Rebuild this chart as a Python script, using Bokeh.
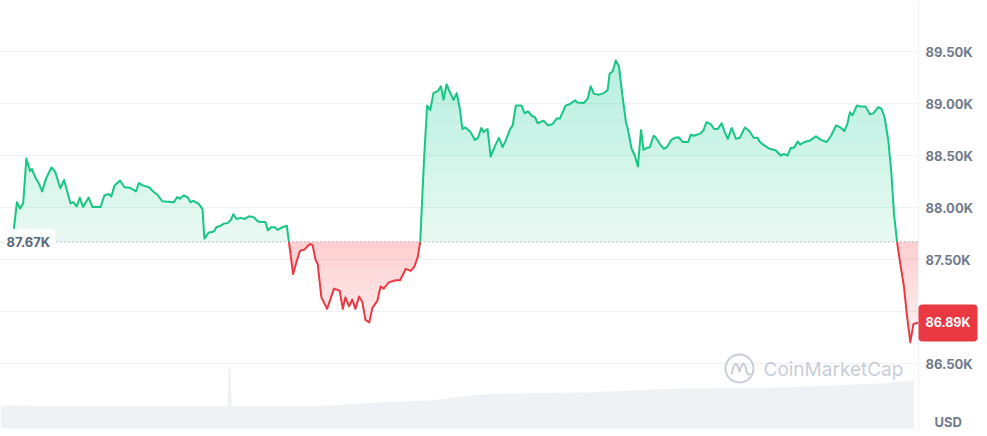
import numpy as np
from bokeh.plotting import figure
from bokeh.models import Range1d, Label, Span
from bokeh.core.properties import value
from bokeh.embed import file_html
from bokeh.resources import INLINE

# ---- data (minutes since start of the 24h window, BTC price in USD) ----
minutes = [0, 2, 7, 12, 17, 22, 28, 31, 37, 42,
           47, 54, 62, 68, 76, 82, 92, 97, 102, 107,
           112, 121, 127, 140, 146, 153, 157, 162, 171, 178,
           187, 196, 201, 208, 217, 225, 230, 238, 256, 262,
           266, 272, 278, 283, 287, 296, 302, 305, 312, 320,
           324, 331, 336, 342, 347, 351, 356, 363, 369, 376,
           384, 389, 394, 402, 406, 411, 417, 421, 429, 436,
           439, 446, 452, 457, 464, 470, 473, 477, 482, 485,
           491, 500, 511, 520, 525, 529, 535, 540, 545, 551,
           556, 561, 567, 572, 580, 585, 590, 598, 609, 616,
           625, 633, 639, 644, 648, 654, 659, 664, 669, 676,
           681, 685, 690, 695, 701, 706, 711, 715, 720, 728,
           735, 740, 745, 749, 755, 760, 766, 773, 779, 784,
           791, 795, 800, 809, 814, 819, 826, 830, 835, 844,
           851, 858, 865, 870, 879, 886, 894, 898, 908, 914,
           919, 924, 932, 940, 946, 949, 954, 959, 964, 969,
           975, 978, 984, 989, 994, 999, 1003, 1009, 1013, 1019,
           1022, 1029, 1035, 1040, 1047, 1053, 1059, 1065, 1074, 1078,
           1083, 1093, 1098, 1103, 1110, 1115, 1121, 1127, 1132, 1137,
           1143, 1150, 1156, 1164, 1171, 1178, 1184, 1188, 1192, 1203,
           1213, 1221, 1226, 1232, 1237, 1242, 1248, 1252, 1259, 1268,
           1277, 1285, 1294, 1301, 1309, 1317, 1322, 1327, 1331, 1335,
           1342, 1349, 1356, 1363, 1368, 1376, 1381, 1386, 1392, 1397,
           1401, 1406, 1411, 1417, 1421, 1427, 1432, 1438, 1440]
price = [87670, 87785, 88050, 87990, 88040, 88470, 88350, 88370, 88280, 88230,
         88155, 88290, 88385, 88340, 88185, 88265, 88040, 88050, 88010, 88095,
         88005, 88095, 88005, 88005, 88115, 88130, 88105, 88210, 88260, 88195,
         88190, 88155, 88235, 88210, 88195, 88145, 88125, 88060, 88050, 88100,
         88085, 88115, 88100, 88050, 88065, 88035, 87985, 87700, 87760, 87770,
         87810, 87825, 87845, 87850, 87880, 87935, 87890, 87900, 87890, 87915,
         87905, 87870, 87860, 87860, 87780, 87810, 87810, 87785, 87810, 87825,
         87685, 87360, 87490, 87585, 87595, 87635, 87650, 87635, 87490, 87460,
         87135, 87025, 87220, 87200, 87025, 87135, 87050, 87115, 87025, 87145,
         87090, 86920, 86895, 87035, 87105, 87240, 87220, 87280, 87300, 87300,
         87410, 87390, 87435, 87520, 87670, 88450, 88980, 88935, 89100, 89120,
         89165, 89035, 89185, 89110, 89035, 89100, 88950, 88755, 88770, 88725,
         88650, 88670, 88765, 88725, 88755, 88490, 88580, 88670, 88580, 88645,
         88755, 88790, 88980, 88980, 88905, 88925, 88880, 88870, 88810, 88835,
         88790, 88800, 88855, 88855, 88980, 88995, 89030, 89010, 89005, 89045,
         89165, 89095, 89085, 89100, 89130, 89285, 89310, 89415, 89355, 89095,
         88820, 88755, 88565, 88500, 88395, 88745, 88555, 88575, 88580, 88690,
         88675, 88610, 88565, 88580, 88650, 88670, 88675, 88630, 88630, 88700,
         88690, 88710, 88740, 88820, 88800, 88755, 88755, 88810, 88725, 88660,
         88765, 88660, 88670, 88770, 88735, 88670, 88670, 88630, 88610, 88565,
         88550, 88500, 88515, 88500, 88575, 88575, 88635, 88605, 88630, 88645,
         88685, 88650, 88630, 88690, 88790, 88765, 88735, 88805, 88915, 88885,
         88980, 88970, 88970, 88895, 88905, 88965, 88950, 88870, 88645, 88325,
         87940, 87665, 87460, 87235, 86995, 86705, 86880, 86890, 86890]
open_price = 87670

# volume (USD billions) over the same window
vol_minutes = [-19, 140, 235, 342, 343, 347, 348, 458, 506, 553,
               617, 665, 728, 776, 903, 1062, 1221, 1380, 1433]
vol_b = [11.5, 11, 11, 11, 30, 30, 11, 11, 11.5, 12.5,
         13.5, 14, 16.5, 17.5, 18, 20, 20.5, 22.5, 24]

tick_values = [86500, 87000, 87500, 88000, 88500, 89000, 89500]
currency = "USD"
watermark = "CoinMarketCap"

GREEN = "#16c784"
RED = "#ea3943"
GRID = "#eff2f5"
AXIS_TXT = "#6f7a8d"

# ---- figure: frame covers the whole canvas, price scale drawn by hand ----
W, H = 987, 436
FRAME_H = 430
SX = 1440 / 906          # minutes per pixel
SY = 1000 / 104          # dollars per pixel
X0 = -12 * SX
X1 = X0 + W * SX
Y1 = 87500 + 259 * SY
Y0 = Y1 - FRAME_H * SY
T_END = minutes[-1]

p = figure(width=W, height=H, x_range=Range1d(X0, X1), y_range=Range1d(Y0, Y1),
           x_axis_location=None, y_axis_location=None,
           output_backend="svg", toolbar_location=None,
           min_border_left=0, min_border_right=0,
           min_border_top=0, min_border_bottom=H - FRAME_H)
p.outline_line_color = None
p.background_fill_color = "white"
p.border_fill_color = "white"
p.grid.visible = False


def xd(px):  # canvas pixel -> data x
    return X0 + px * SX


def yd(py):  # canvas pixel -> data y
    return Y1 - py * SY


# horizontal grid lines (price levels) ending at the scale separator
p.segment(x0=[X0] * len(tick_values), x1=[T_END] * len(tick_values),
          y0=tick_values, y1=tick_values, line_color=GRID, line_width=1)

# ---- volume ----
p.extra_y_ranges = {"vol": Range1d(-1, FRAME_H / 2 - 1)}
p.varea(x=vol_minutes, y1=0, y2=vol_b, y_range_name="vol", fill_color="#eff1f4")

# ---- build series with crossing points ----
t = np.array(minutes, dtype=float)
v = np.array(price, dtype=float)
tx, vy = [t[0]], [v[0]]
for i in range(len(t) - 1):
    a, b = v[i] - open_price, v[i + 1] - open_price
    if a * b < 0:
        tc = t[i] + (t[i + 1] - t[i]) * a / (a - b)
        tx.append(tc)
        vy.append(open_price)
    tx.append(t[i + 1])
    vy.append(v[i + 1])
tx = np.array(tx)
vy = np.array(vy)

# green gradient fill (above open)
up = np.maximum(vy, open_price)
g_levels = np.linspace(open_price, 89450, 12)
for k, lo in enumerate(g_levels):
    alpha = 0.10 if k == 0 else 0.019
    p.varea(x=tx, y1=lo, y2=np.maximum(up, lo), fill_color=GREEN, fill_alpha=alpha)

# red gradient fill (below open)
dn = np.minimum(vy, open_price)
r_levels = np.linspace(86700, open_price, 12, endpoint=False)
for k, lo in enumerate(r_levels):
    alpha = 0.07 if k == 0 else 0.016
    p.varea(x=tx, y1=np.minimum(np.maximum(dn, lo), open_price), y2=open_price,
            fill_color=RED, fill_alpha=alpha)

g_line = np.where(vy >= open_price, vy, np.nan)
r_line = np.where(vy <= open_price, vy, np.nan)
p.line(tx, g_line, line_color=GREEN, line_width=2, line_join="round")
p.line(tx, r_line, line_color=RED, line_width=2, line_join="round")

# ---- price scale on the right ----
p.add_layout(Span(location=T_END, dimension="height", line_color=GRID, line_width=1))
tick_text = [f"{tv/1000:.2f}K" for tv in tick_values]
p.text(x=[xd(925)] * len(tick_values), y=tick_values, text=tick_text,
       text_color=AXIS_TXT, text_font=value("Inter"), text_font_style="bold",
       text_font_size="13px", text_baseline="middle", text_align="left")

# ---- open price reference ----
p.segment(x0=[X0], x1=[T_END], y0=[open_price], y1=[open_price],
          line_color="#8d95a3", line_width=1.2, line_dash="1 3")
p.add_layout(Label(x=xd(1), y=open_price, text=f"{open_price/1000:.2f}K",
                   text_color="#58667e", text_font="Inter", text_font_style="bold",
                   text_font_size="13px",
                   text_baseline="middle", text_align="left",
                   background_fill_color="white", background_fill_alpha=0.9,
                   padding=(5, 5), border_radius=5))

# ---- last price tag (covers the nearby scale label, as in the original) ----
last = price[-1]
p.add_layout(Label(x=xd(918), y=last, text=f"{last/1000:.2f}K",
                   text_color="white", text_font="Inter", text_font_style="bold",
                   text_font_size="12.5px", text_baseline="middle", text_align="left",
                   background_fill_color=RED, padding=(7, 11), border_radius=4))

# ---- currency caption ----
p.add_layout(Label(x=xd(934), y=yd(421), text=currency, text_color=AXIS_TXT,
                   text_font="Inter", text_font_style="bold", text_font_size="13px",
                   text_baseline="middle", text_align="left"))

# ---- watermark ----
WM = "#c8ced8"
cx, cy = 739, 368
p.scatter(x=[xd(cx)], y=[yd(cy)], marker="circle", size=28, fill_color=None,
          line_color=WM, line_width=2)
wave = [(-8, 6), (-6, -2), (-4, -5), (-2, -3), (0, 3), (2, -3), (4, -5), (6, -2),
        (7, 4), (9, 6), (11, 5)]
p.line([xd(cx + dx) for dx, dy in wave], [yd(cy + dy) for dx, dy in wave],
       line_color=WM, line_width=2, line_join="round")
p.add_layout(Label(x=xd(763), y=yd(369), text=watermark, text_color=WM,
                   text_font="Inter", text_font_size="19px", text_baseline="middle",
                   text_align="left"))

open("out.html", "w").write(file_html(p, INLINE))
